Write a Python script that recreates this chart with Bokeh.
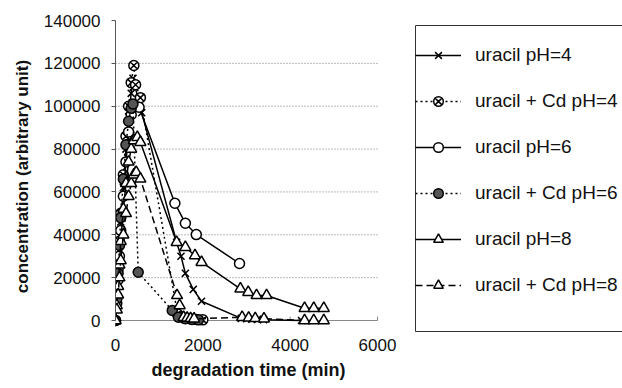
from bokeh.plotting import figure
from bokeh.models import (ColumnDataSource, FixedTicker, BasicTickFormatter, Range1d,
                          Legend, LegendItem, BoxAnnotation, Title)
from bokeh.embed import file_html
from bokeh.resources import INLINE

# ---------------- data ----------------
series_names = ["uracil pH=4", "uracil + Cd pH=4", "uracil pH=6",
                "uracil + Cd pH=6", "uracil pH=8", "uracil + Cd pH=8"]

time_ph4 = [0, 30, 60, 90, 120, 180, 240, 300, 360, 400, 600, 1400, 1500, 1600, 1780, 1970,
            2880, 3000, 3120, 3250, 3390, 4260]
conc_ph4 = [0, 9000, 21000, 33000, 46000, 62000, 80000, 95000, 106000, 113000, 97000, 36500,
            30000, 22000, 14500, 9000, 1000, 800, 600, 500, 400, 0]

time_cd_ph4 = [0, 30, 60, 90, 120, 180, 240, 300, 360, 420, 460, 570, 1420, 1560, 1700, 1850, 2000]
conc_cd_ph4 = [0, 11000, 24000, 37000, 50000, 68000, 86000, 100000, 111000, 119000, 110000,
               104000, 3000, 1200, 800, 500, 300]

time_ph6 = [0, 30, 60, 90, 120, 180, 240, 300, 360, 420, 540, 1360, 1600, 1850, 2840]
conc_ph6 = [0, 8000, 19000, 30000, 42000, 58000, 74000, 88000, 96000, 100000, 99500, 54700,
            45400, 40100, 26600]

time_cd_ph6 = [0, 30, 60, 90, 120, 180, 240, 300, 360, 400, 520, 1300, 1440, 1600, 1750, 1900]
conc_cd_ph6 = [0, 10000, 22000, 35000, 48000, 66000, 82000, 93000, 99000, 101000, 22500, 4700,
               1500, 800, 500, 300]

time_ph8 = [0, 30, 60, 90, 120, 180, 240, 300, 360, 420, 500, 570, 1400, 1600, 1820, 1970,
            2860, 3040, 3230, 3460, 4330, 4540, 4770]
conc_ph8 = [0, 7000, 16000, 26000, 37000, 52000, 64000, 74000, 80000, 84000, 85500, 83200,
            36500, 34200, 30300, 27200, 14800, 13200, 11700, 11700, 5700, 5700, 5700]

time_cd_ph8 = [0, 30, 60, 90, 120, 180, 240, 300, 360, 420, 475, 570, 1410, 1470, 1560, 1640,
               1720, 1800, 2900, 3050, 3200, 3400, 4330, 4540, 4770]
conc_cd_ph8 = [0, 5000, 12000, 20000, 28000, 40000, 50000, 58000, 64000, 68000, 69200, 66100,
               11700, 7000, 1500, 1200, 1000, 800, 1500, 1200, 1000, 800, 0, 0, 0]

x_ticks = [0, 2000, 4000, 6000]
y_ticks = [0, 20000, 40000, 60000, 80000, 100000, 120000, 140000]

x_title = "degradation time (min)"
y_title = "concentration (arbitrary unit)"

FONT = "Liberation Sans"

styles = [
    dict(dash="solid", marker="x", fill="white", size=10),
    dict(dash="2 3", marker="circle_x", fill="white", size=10),
    dict(dash="solid", marker="circle", fill="white", size=10),
    dict(dash="2 3", marker="circle", fill="#555555", size=10),
    dict(dash="solid", marker="triangle", fill="white", size=11),
    dict(dash="7 4", marker="triangle", fill="white", size=11),
]
data = [(time_ph4, conc_ph4), (time_cd_ph4, conc_cd_ph4), (time_ph6, conc_ph6),
        (time_cd_ph6, conc_cd_ph6), (time_ph8, conc_ph8), (time_cd_ph8, conc_cd_ph8)]

# ---------------- layout geometry ----------------
# plot area (0..6000, 0..140000) is 262 x 300 px; the frame also holds the legend panel
X_MAX, Y_MAX = 6000, 140000
AREA_W, AREA_H = 262, 300
FRAME_W, FRAME_H = 507, 312
x_end = X_MAX * FRAME_W / AREA_W
y_start = -Y_MAX * (FRAME_H - AREA_H) / AREA_H
px_y = Y_MAX / AREA_H  # data units per pixel (vertical)

p = figure(width=622, height=388, output_backend="svg", toolbar_location=None,
           x_range=Range1d(0, x_end), y_range=Range1d(y_start, Y_MAX),
           min_border_left=115, min_border_right=0, min_border_top=20, min_border_bottom=56)
p.outline_line_color = None
p.xgrid.visible = False
p.ygrid.visible = False

# dotted horizontal gridlines limited to the plot area
grid_y = y_ticks[1:-1]
p.segment(x0=[0] * len(grid_y), x1=[X_MAX] * len(grid_y), y0=grid_y, y1=grid_y,
          line_color="#777777", line_dash="1 2", line_width=1)

# x axis line at y = 0 with small inward ticks
p.segment(x0=[0], x1=[X_MAX], y0=[0], y1=[0], line_color="#888888", line_width=1)
p.segment(x0=x_ticks, x1=x_ticks, y0=[0] * len(x_ticks), y1=[4 * px_y] * len(x_ticks),
          line_color="#888888", line_width=1)

p.xaxis.bounds = (0, X_MAX)
p.yaxis.bounds = (0, Y_MAX)
p.xaxis.ticker = FixedTicker(ticks=x_ticks)
p.yaxis.ticker = FixedTicker(ticks=y_ticks)
p.yaxis.formatter = BasicTickFormatter(use_scientific=False)
p.xaxis.formatter = BasicTickFormatter(use_scientific=False)
for ax in (p.xaxis, p.yaxis):
    ax.major_label_text_font = FONT
    ax.major_label_text_font_size = "17px"
    ax.major_label_text_color = "#111111"
    ax.axis_label_text_font = FONT
    ax.axis_label_text_font_style = "bold"
    ax.axis_label_text_color = "#111111"
    ax.minor_tick_line_color = None
p.yaxis.axis_label_text_font_size = "17px"
p.yaxis.axis_label = y_title
p.xaxis.axis_line_color = None
p.xaxis.major_tick_line_color = None
p.xaxis.major_tick_in = 0
p.xaxis.major_tick_out = 0
p.xaxis.major_label_standoff = 6
p.yaxis.axis_line_color = "#555555"
p.yaxis.major_tick_line_color = "#555555"
p.yaxis.major_tick_in = 0
p.yaxis.major_tick_out = 4
p.yaxis.major_label_standoff = 11
p.yaxis.axis_label_standoff = 9

# x-axis title centred under the plot area (not under the whole frame)
xt = Title(text=x_title, align="left", offset=36, standoff=8,
           text_font=FONT, text_font_size="18px", text_font_style="bold",
           text_color="#111111")
p.add_layout(xt, "below")

renderer_pairs = []
for st, (xs, ys) in zip(styles, data):
    src = ColumnDataSource(dict(x=xs, y=ys))
    lr = p.line("x", "y", source=src, line_color="black", line_width=1.5, line_dash=st["dash"])
    sr = p.scatter("x", "y", source=src, marker=st["marker"], size=st["size"],
                   line_color="black", line_width=1.5, fill_color=st["fill"])
    renderer_pairs.append((lr, sr))

# legend frame (its right side runs past the edge like the original)
box = BoxAnnotation(left=415, right=640, top=25, bottom=331,
                    left_units="canvas", right_units="canvas",
                    top_units="canvas", bottom_units="canvas",
                    fill_alpha=0, line_color="#333333", line_width=1, line_alpha=1)
p.add_layout(box)

items = [LegendItem(label=name, renderers=[lr, sr])
         for name, (lr, sr) in zip(series_names, renderer_pairs)]
leg = Legend(items=items, location=(300, 35), margin=0, padding=5,
             glyph_width=46, glyph_height=24, label_height=24, spacing=22,
             label_standoff=14, border_line_color=None, background_fill_alpha=0,
             label_text_font=FONT, label_text_font_size="19px", label_text_color="#111111")
p.add_layout(leg, "center")

open("out.html", "w").write(file_html(p, INLINE))
